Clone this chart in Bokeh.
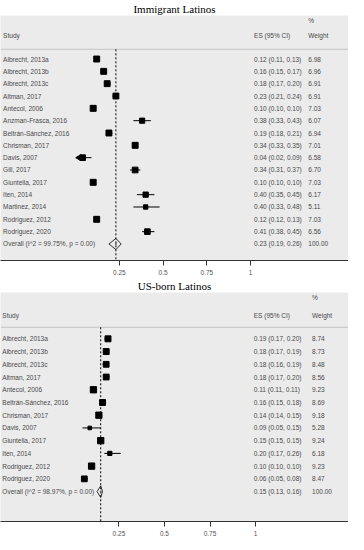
from bokeh.plotting import figure
from bokeh.models import Range1d, FixedTicker, ColumnDataSource
from bokeh.layouts import column
from bokeh.core.properties import value
from bokeh.embed import file_html
from bokeh.resources import INLINE

# ---------------- data ----------------
imm_studies = ["Albrecht, 2013a", "Albrecht, 2013b", "Albrecht, 2013c", "Altman, 2017",
               "Antecol, 2006", "Anzman-Frasca, 2016", "Beltrán-Sánchez, 2016",
               "Chrisman, 2017", "Davis, 2007", "Gill, 2017", "Giuntella, 2017",
               "Iten, 2014", "Martinez, 2014", "Rodriguez, 2012", "Rodriguez, 2020"]
imm_es = [0.12, 0.16, 0.18, 0.23, 0.10, 0.38, 0.19, 0.34, 0.04, 0.34, 0.10, 0.40, 0.40, 0.12, 0.41]
imm_lo = [0.11, 0.15, 0.17, 0.21, 0.10, 0.33, 0.18, 0.33, 0.02, 0.31, 0.10, 0.35, 0.33, 0.12, 0.38]
imm_hi = [0.13, 0.17, 0.20, 0.24, 0.10, 0.43, 0.21, 0.35, 0.09, 0.37, 0.10, 0.45, 0.48, 0.13, 0.45]
imm_w = [6.98, 6.96, 6.91, 6.91, 7.03, 6.07, 6.94, 7.01, 6.58, 6.70, 7.03, 6.17, 5.11, 7.03, 6.56]
imm_overall = (0.23, 0.19, 0.26)
imm_overall_label = "Overall  (I^2 = 99.75%, p = 0.00)"
imm_clipped = ["Davis, 2007"]

us_studies = ["Albrecht, 2013a", "Albrecht, 2013b", "Albrecht, 2013c", "Altman, 2017",
              "Antecol, 2006", "Beltrán-Sánchez, 2016", "Chrisman, 2017", "Davis, 2007",
              "Giuntella, 2017", "Iten, 2014", "Rodriguez, 2012", "Rodriguez, 2020"]
us_es = [0.19, 0.18, 0.18, 0.18, 0.11, 0.16, 0.14, 0.09, 0.15, 0.20, 0.10, 0.06]
us_lo = [0.17, 0.17, 0.16, 0.17, 0.11, 0.15, 0.14, 0.05, 0.15, 0.17, 0.10, 0.05]
us_hi = [0.20, 0.19, 0.19, 0.20, 0.11, 0.18, 0.15, 0.15, 0.15, 0.26, 0.10, 0.08]
us_w = [8.74, 8.73, 8.48, 8.56, 9.23, 8.69, 9.18, 5.28, 9.24, 6.18, 9.23, 8.47]
us_overall = (0.15, 0.13, 0.16)
us_overall_label = "Overall  (I^2 = 98.97%, p = 0.00)"
us_clipped = []

tick_values = [0.25, 0.5, 0.75, 1]
tick_labels = ["0.25", "0.5", "0.75", "1"]

FONT = "Liberation Sans"
TXT = "#4a4a4a"
FS = "6.5px"


def forest(title, studies, es, lo, hi, w, overall, overall_label, clipped,
           xr, yr, frame_h, size_k, sep_y, hdr_pct_y, hdr_y, es_x, wt_x, lab_x):
    n = len(studies)
    ys = [-i for i in range(n)]
    p = figure(width=348, frame_width=348, frame_height=frame_h,
               x_range=Range1d(*xr), y_range=Range1d(*yr),
               output_backend="svg", toolbar_location=None,
               min_border_left=0, min_border_right=0, min_border_top=0, min_border_bottom=0)
    p.title.text = title
    p.title.align = "center"
    p.title.text_font = "Liberation Serif"
    p.title.text_font_size = "11px"
    p.title.text_font_style = "normal"
    p.title.text_color = "black"
    p.title.standoff = 1
    p.background_fill_color = "#ebebeb"
    p.border_fill_color = "white"
    p.outline_line_color = None
    p.grid.visible = False
    p.yaxis.visible = False
    ax = p.xaxis[0]
    ax.ticker = FixedTicker(ticks=tick_values)
    ax.major_label_overrides = {v: l for v, l in zip(tick_values, tick_labels)}
    ax.minor_tick_line_color = None
    ax.major_tick_in = 0
    ax.major_tick_out = 5
    ax.axis_line_color = "#333333"
    ax.major_tick_line_color = "#333333"
    ax.major_label_text_font = FONT
    ax.major_label_text_font_size = "6.5px"
    ax.major_label_text_color = "#555555"
    ax.major_label_standoff = 4

    # separator under header
    p.segment(x0=[xr[0]], x1=[xr[1]], y0=[sep_y], y1=[sep_y], line_color="#c4c4c4", line_width=1)
    # dashed overall line
    ov_es, ov_lo, ov_hi = overall
    p.segment(x0=[ov_es], x1=[ov_es], y0=[sep_y], y1=[yr[0]], line_color="black",
              line_width=1, line_dash="2 2")

    src = ColumnDataSource(dict(y=ys, es=es, lo=lo, hi=hi,
                                size=[size_k * v for v in w],
                                study=studies,
                                est=[f"{a:.2f} ({b:.2f}, {c:.2f})" for a, b, c in zip(es, lo, hi)],
                                wt=[f"{v:.2f}" for v in w]))
    p.segment(x0="lo", x1="hi", y0="y", y1="y", source=src, line_color="black", line_width=1)
    p.scatter(x="es", y="y", size="size", marker="square", source=src,
              fill_color="black", line_color="black")
    for s in clipped:
        i = studies.index(s)
        p.scatter(x=[lo[i]], y=[ys[i]], marker="triangle", angle=1.5708, size=6,
                  fill_color="black", line_color="black")

    # overall diamond
    oy = -n
    p.patch(x=[ov_lo, ov_es, ov_hi, ov_es], y=[oy, oy + 0.45, oy, oy - 0.45],
            fill_color="white", fill_alpha=0.0, line_color="black", line_width=0.8)
    p.scatter(x=[ov_es], y=[oy], size=2, marker="circle", fill_color="#666666", line_color=None)

    # text columns
    tkw = dict(text_font=value(FONT), text_font_size=FS, text_color=TXT, text_baseline="middle")
    p.text(x=lab_x, y="y", text="study", source=src, **tkw)
    p.text(x=es_x, y="y", text="est", source=src, **tkw)
    p.text(x=wt_x, y="y", text="wt", source=src, **tkw)
    p.text(x=[lab_x], y=[oy], text=[overall_label], **tkw)
    p.text(x=[es_x], y=[oy], text=[f"{ov_es:.2f} ({ov_lo:.2f}, {ov_hi:.2f})"], **tkw)
    p.text(x=[wt_x], y=[oy], text=["100.00"], **tkw)
    # header
    p.text(x=[lab_x], y=[hdr_y], text=["Study"], **tkw)
    p.text(x=[es_x], y=[hdr_y], text=["ES (95% CI)"], **tkw)
    p.text(x=[wt_x], y=[hdr_y], text=["Weight"], **tkw)
    p.text(x=[wt_x], y=[hdr_pct_y], text=["%"], **tkw)
    return p


p1 = forest("Immigrant Latinos", imm_studies, imm_es, imm_lo, imm_hi, imm_w,
            imm_overall, imm_overall_label, imm_clipped,
            xr=(-0.43, 1.56), yr=(-16.34, 3.53), frame_h=245, size_k=0.85,
            sep_y=0.79, hdr_pct_y=3.1, hdr_y=1.89, es_x=1.02, wt_x=1.33, lab_x=-0.415)
p2 = forest("US-born Latinos", us_studies, us_es, us_lo, us_hi, us_w,
            us_overall, us_overall_label, us_clipped,
            xr=(-0.40, 1.51), yr=(-14.35, 3.64), frame_h=229, size_k=0.68,
            sep_y=0.91, hdr_pct_y=3.26, hdr_y=1.85, es_x=0.99, wt_x=1.31, lab_x=-0.39)

layout = column(p1, p2, spacing=0)
open("out.html", "w").write(file_html(layout, INLINE))
